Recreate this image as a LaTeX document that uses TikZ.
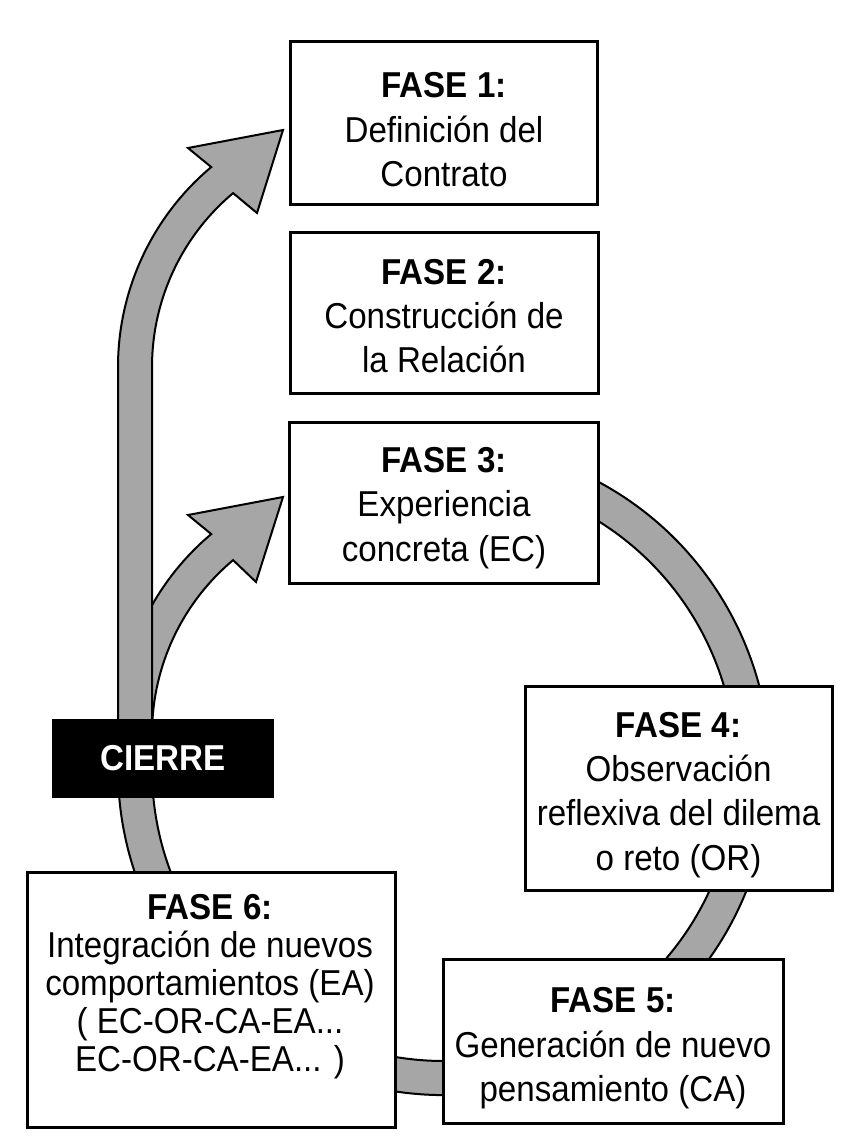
\documentclass[tikz,border=0pt]{standalone}
\usepackage{fontspec}
\setmainfont{Liberation Sans}[FakeStretch=0.92]
\definecolor{bandgray}{RGB}{166,166,166}
\begin{document}
\begin{tikzpicture}[x=1pt,y=1pt,
  phase/.style={draw=black, line width=3pt, fill=white, rectangle, inner sep=0pt},
  txt/.style={align=center, font=\fontsize{36}{44.3}\selectfont, inner sep=0pt},
  bandstyle/.style={fill=bandgray, draw=black, line width=2pt, line join=miter}]
\useasboundingbox (0,0) rectangle (843,-1139);
\fill[white] (0,0) rectangle (843,-1139);

% branch arrow towards phase 3
\path[bandstyle] (118,-790) -- (118,-734)
  arc[start angle=180, end angle=130, radius=261]
  -- (188,-515) -- (283,-497) -- (256,-582) -- (233.1,-560.1)
  arc[start angle=130, end angle=180, radius=227]
  -- (152,-790) -- cycle;

% main cycle band with arrow towards phase 1
\path[bandstyle] (555.5,-462.66)
  arc[start angle=70, end angle=-180, radius=326]
  -- (118,-367)
  arc[start angle=180, end angle=130, radius=261]
  -- (188,-148) -- (283,-130) -- (257,-213) -- (233.1,-193.1)
  arc[start angle=130, end angle=180, radius=227]
  -- (152,-769)
  arc[start angle=-180, end angle=70, radius=292]
  -- cycle;

% boxes
\node[phase, minimum width=307pt, minimum height=163pt] (f1) at (443.5,-123.5) {};
\node[phase, minimum width=308pt, minimum height=160pt] (f2) at (444,-313) {};
\node[phase, minimum width=309pt, minimum height=161pt] (f3) at (443.5,-502.5) {};
\node[phase, minimum width=307pt, minimum height=204pt] (f4) at (678.5,-788) {};
\node[phase, minimum width=340pt, minimum height=164pt] (f5) at (613,-1041) {};
\node[phase, minimum width=368pt, minimum height=255pt] (f6) at (211,-999.5) {};

% texts
\node[txt] (t1) at (444,-129.9) {\textbf{FASE 1:}\\Definición del\\Contrato};
\node[txt] (t2) at (444,-316.1) {\textbf{FASE 2:}\\Construcción de\\la Relación};
\node[txt] (t3) at (444,-507.9) {\textbf{FASE 3:}\\Experiencia\\concreta (EC)};
\node[txt] (t4) at (678.5,-794.9) {\textbf{FASE 4:}\\Observación\\reflexiva del dilema\\o reto (OR)};
\node[txt] (t5) at (613,-1048.4) {\textbf{FASE 5:}\\Generación de nuevo\\pensamiento (CA)};
\node[txt, font=\fontsize{36}{38}\selectfont] (t6) at (210,-986.9) {\textbf{FASE 6:}\\Integración de nuevos\\comportamientos (EA)\\( EC-OR-CA-EA...\\EC-OR-CA-EA... )};

% closing label
\node[fill=black, minimum width=222pt, minimum height=79pt, inner sep=0pt, text=white,
      font=\fontsize{36}{40}\selectfont\bfseries] (cierre) at (163,-758.5) {CIERRE};
\end{tikzpicture}
\end{document}
